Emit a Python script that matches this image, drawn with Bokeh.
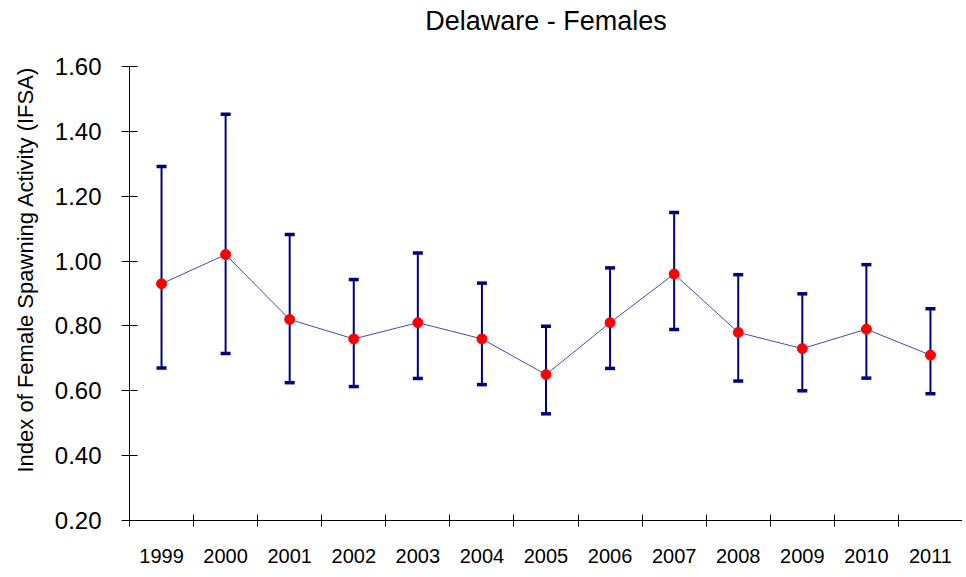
import math
from bokeh.plotting import figure
from bokeh.models import Range1d, FixedTicker, NumeralTickFormatter, Title, ColumnDataSource
from bokeh.embed import file_html
from bokeh.resources import INLINE

# ---- data ----
years = ["1999", "2000", "2001", "2002", "2003", "2004", "2005",
         "2006", "2007", "2008", "2009", "2010", "2011"]
ifsa = [0.93, 1.02, 0.82, 0.76, 0.81, 0.76, 0.65, 0.81, 0.96, 0.78, 0.73, 0.79, 0.71]
lower = [0.67, 0.715, 0.625, 0.613, 0.638, 0.619, 0.529, 0.669, 0.789, 0.63, 0.60, 0.639, 0.591]
upper = [1.292, 1.453, 1.082, 0.943, 1.025, 0.932, 0.799, 0.979, 1.15, 0.958, 0.899, 0.989, 0.853]
y_ticks = [0.20, 0.40, 0.60, 0.80, 1.00, 1.20, 1.40, 1.60]

title_text = "Delaware - Females"
y_label_text = "Index of Female Spawning Activity (IFSA)"

FONT = "Liberation Sans"

xpos = list(range(1, len(years) + 1))
src = ColumnDataSource(dict(x=xpos, y=ifsa, lo=lower, hi=upper))

p = figure(width=962, height=568, output_backend="svg", toolbar_location=None,
           x_range=Range1d(0.5, len(years) + 0.5), y_range=Range1d(y_ticks[0], y_ticks[-1]),
           min_border_left=128, min_border_right=0, min_border_top=66, min_border_bottom=48)
p.title = None

# spacer between frame and title, then the title itself (outermost)
p.add_layout(Title(text=" ", standoff=21, text_font_size="1px"), "above")
p.add_layout(Title(text=title_text, align="center", vertical_align="top", standoff=10,
                   text_font=FONT, text_font_size="27px", text_font_style="normal",
                   text_color="black"), "above")

p.outline_line_color = None
p.xgrid.grid_line_color = None
p.ygrid.grid_line_color = None
p.background_fill_color = "white"
p.border_fill_color = "white"

# x axis: labels at category centres, tick marks between categories
xa = p.xaxis[0]
xa.ticker = FixedTicker(ticks=xpos, minor_ticks=[i + 0.5 for i in range(0, len(years) + 1)])
xa.major_label_overrides = {i: y for i, y in zip(xpos, years)}
xa.major_tick_in = 0
xa.major_tick_out = 0
xa.minor_tick_in = 6
xa.minor_tick_out = 6
xa.minor_tick_line_color = "black"
xa.axis_line_color = "black"
xa.major_label_text_font = FONT
xa.major_label_text_font_size = "20px"
xa.major_label_text_color = "black"
xa.major_label_standoff = 22

ya = p.yaxis[0]
ya.ticker = FixedTicker(ticks=y_ticks, minor_ticks=[])
ya.formatter = NumeralTickFormatter(format="0.00")
ya.major_tick_in = 8
ya.major_tick_out = 8
ya.major_tick_line_color = "black"
ya.axis_line_color = "black"
ya.major_label_text_font = FONT
ya.major_label_text_font_size = "24px"
ya.major_label_text_color = "black"
ya.major_label_standoff = 20

# y axis title as a side title (reads bottom-to-top)
p.add_layout(Title(text=y_label_text, align="left", offset=48, vertical_align="top",
                   standoff=24, text_font=FONT, text_font_size="22px",
                   text_font_style="normal", text_color="black"), "left")

# error bars
p.segment(x0="x", y0="lo", x1="x", y1="hi", source=src, line_color="#000080", line_width=2)
p.scatter(x="x", y="lo", source=src, marker="dash", size=10, line_color="#000080", line_width=3.5)
p.scatter(x="x", y="hi", source=src, marker="dash", size=10, line_color="#000080", line_width=3.5)

# connecting line and points
p.line(x="x", y="y", source=src, line_color="#4848b0", line_width=1)
p.scatter(x="x", y="y", source=src, marker="circle", size=10, fill_color="#ff0000", line_color="#ff0000")

open("out.html", "w").write(file_html(p, INLINE))
